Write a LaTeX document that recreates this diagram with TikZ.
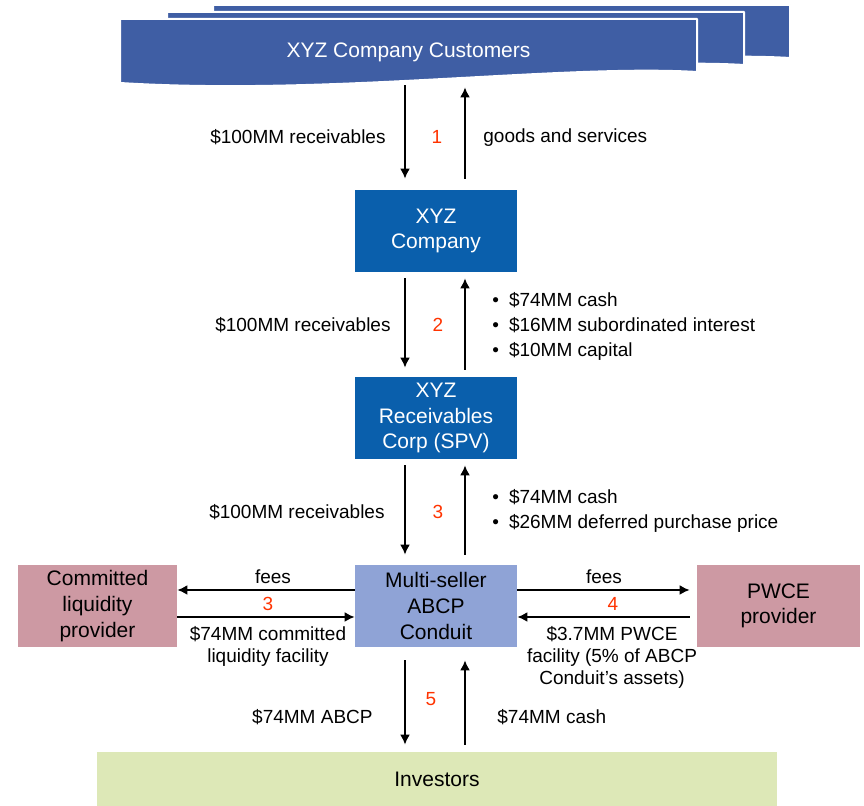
\documentclass[tikz,border=0pt]{standalone}
\usepackage{fontspec}
\setmainfont{Liberation Sans}
\usetikzlibrary{calc,arrows.meta}

\definecolor{klantblauw}{HTML}{3F5EA4}
\definecolor{bedrijfblauw}{HTML}{0A5FAC}
\definecolor{conduitblauw}{HTML}{8FA3D6}
\definecolor{roze}{HTML}{CD99A3}
\definecolor{lichtgroen}{HTML}{DDE8B7}
\definecolor{rood}{HTML}{FF3300}

\begin{document}
\begin{tikzpicture}[x=0.5pt, y=-0.5pt, >={Latex[length=5pt,width=5pt]}, line join=round,
    blok/.style={rectangle, inner sep=0pt, minimum width=81pt, minimum height=41pt,
      align=center, font=\fontsize{10.5}{12.8}\selectfont},
    lbl/.style={inner sep=0pt, align=center, font=\fontsize{9.5}{11}\selectfont},
    nr/.style={lbl, text=rood},
    pijl/.style={->, line width=0.85pt}]
      \useasboundingbox (0,0) rectangle (864,806);

      % Klanten (drie bladen)
      \foreach \dx/\dy in {93/-14, 47/-7, 0/0}{
        \fill[klantblauw, draw=white, line width=1pt, shift={(\dx,\dy)}]
          (120,19) -- (697,19) -- (697,72)
          .. controls (560,64) and (330,96) .. (120,83) -- cycle;
      }
      \node[rectangle, inner sep=0pt, minimum width=288.5pt, minimum height=33pt,
        text=white, font=\fontsize{10.5}{12.5}\selectfont] (klant) at (408.5,52)
        {XYZ Company Customers};

      % Blokken
      \node[blok, fill=bedrijfblauw, text=white] (bedrijf) at (436,231) {XYZ\\Company};
      \node[blok, fill=bedrijfblauw, text=white] (spv) at (436,418) {XYZ\\Receivables\\Corp (SPV)};
      \node[blok, fill=conduitblauw] (conduit) at (436,606) {Multi-seller\\ABCP\\Conduit};
      \node[blok, fill=roze, minimum width=79.5pt] (liq) at (97.5,606) {Committed\\liquidity\\provider};
      \node[blok, fill=roze, minimum width=81.5pt] (pwce) at (778.5,606) {PWCE\\provider};
      \node[blok, fill=lichtgroen, minimum width=340pt, minimum height=27pt] (inv) at (437,779) {Investors};

      % Assen van de pijlen
      \coordinate (omlaag) at (405,0);
      \coordinate (omhoog) at (465,0);

      % Stap 1
      \draw[pijl, shorten >=5.5pt] (klant.south -| omlaag) -- (bedrijf.north -| omlaag);
      \draw[pijl, shorten <=5.5pt, shorten >=1pt] (bedrijf.north -| omhoog) -- (klant.south -| omhoog);
      \node[lbl, anchor=east] at (386,137) {\$100MM receivables};
      \node[nr] at (437,137) {1};
      \node[lbl, anchor=west] at (483,138) {goods and services};

      % Stap 2
      \draw[pijl, shorten <=3pt, shorten >=4.5pt] (bedrijf.south -| omlaag) -- (spv.north -| omlaag);
      \draw[pijl, shorten <=3.5pt, shorten >=3pt] (spv.north -| omhoog) -- (bedrijf.south -| omhoog);
      \node[lbl, anchor=east] at (391,325) {\$100MM receivables};
      \node[nr] at (438,325) {2};
      \node[lbl, anchor=west, align=left, font=\fontsize{9.5}{12.5}\selectfont] at (492,326)
        {\textbullet\hspace{5pt}\$74MM cash\\
         \textbullet\hspace{5pt}\$16MM subordinated interest\\
         \textbullet\hspace{5pt}\$10MM capital};

      % Stap 3
      \draw[pijl, shorten <=3pt, shorten >=5pt] (spv.south -| omlaag) -- (conduit.north -| omlaag);
      \draw[pijl, shorten <=5pt, shorten >=3pt] (conduit.north -| omhoog) -- (spv.south -| omhoog);
      \node[lbl, anchor=east] at (385,512) {\$100MM receivables};
      \node[nr] at (438,512) {3};
      \node[lbl, anchor=west, align=left, font=\fontsize{9.5}{12.5}\selectfont] at (492,511)
        {\textbullet\hspace{5pt}\$74MM cash\\
         \textbullet\hspace{5pt}\$26MM deferred purchase price};

      % Liquiditeit links
      \draw[pijl] ([yshift=8pt]conduit.west) -- ([yshift=8pt]liq.east);
      \draw[pijl] ([yshift=-5.5pt]liq.east) -- ([yshift=-5.5pt]conduit.west);
      \node[lbl] at (273,577) {fees};
      \node[nr] at (268,604) {3};
      \node[lbl] at (268,646) {\$74MM committed\\liquidity facility};

      % PWCE rechts
      \draw[pijl, shorten >=3.5pt] ([yshift=8pt]conduit.east) -- ([yshift=8pt]pwce.west);
      \draw[pijl, shorten <=3.5pt] ([yshift=-5.5pt]pwce.west) -- ([yshift=-5.5pt]conduit.east);
      \node[lbl] at (604,577) {fees};
      \node[nr] at (613,604) {4};
      \node[lbl] at (612,657) {\$3.7MM PWCE\\facility (5\% of ABCP\\Conduit’s assets)};

      % Stap 5
      \draw[pijl, shorten <=6.5pt, shorten >=3.5pt] (conduit.south -| omlaag) -- (inv.north -| omlaag);
      \draw[pijl, shorten <=3.5pt, shorten >=6.5pt] (inv.north -| omhoog) -- (conduit.south -| omhoog);
      \node[nr] at (431,699) {5};
      \node[lbl, anchor=east] at (373,717) {\$74MM ABCP};
      \node[lbl, anchor=west] at (497,717) {\$74MM cash};
    \end{tikzpicture}
\end{document}
